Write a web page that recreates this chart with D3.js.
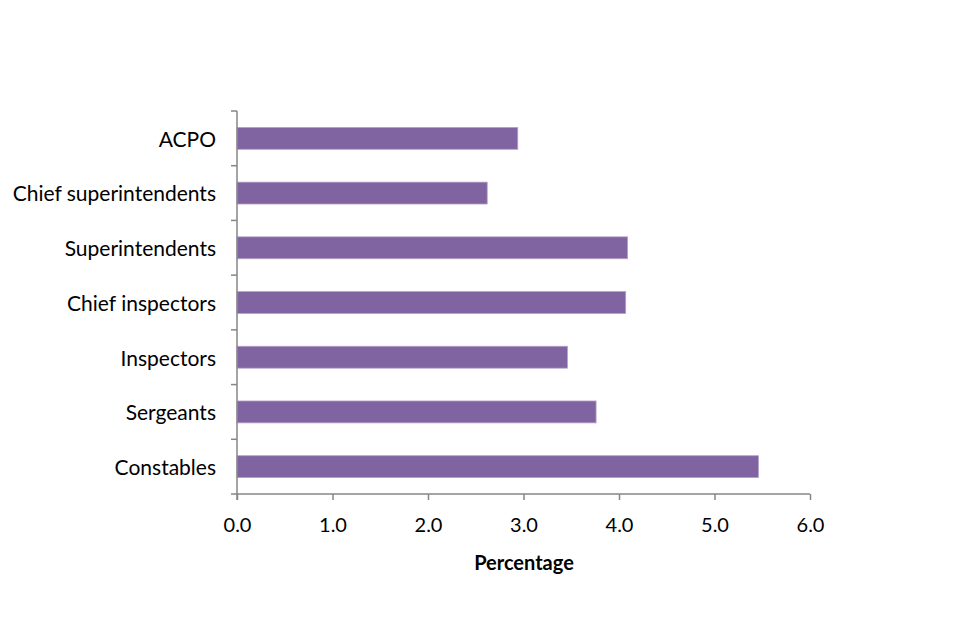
<!DOCTYPE html>
<html>
<head>
<meta charset="utf-8">
<script src="https://cdn.jsdelivr.net/npm/d3@7"></script>
<style>
  body { margin: 0; background: #fff; }
  svg { font-family: Lato, "Open Sans", sans-serif; }
</style>
</head>
<body>
<svg id="chart" width="960" height="640"></svg>
<script>
const ranks = ["ACPO", "Chief superintendents", "Superintendents", "Chief inspectors",
    "Inspectors", "Sergeants", "Constables"];
const percentages = [2.94, 2.62, 4.09, 4.07, 3.46, 3.76, 5.46];
const xTicks = [0, 1, 2, 3, 4, 5, 6];

const svg = d3.select("#chart"),
    plotLeft = 237, plotRight = 810, plotTop = 111, plotBottom = 494,
    axisColor = "#868686";

const x = d3.scaleLinear().domain([0, 6]).range([plotLeft, plotRight]);
const y = d3.scaleBand().domain(ranks).range([plotTop, plotBottom])
    .paddingInner(0.6).paddingOuter(0.3);

// bars
svg.append("g").selectAll("rect")
    .data(ranks)
    .join("rect")
    .attr("x", x(0))
    .attr("y", d => y(d))
    .attr("width", (d, i) => x(percentages[i]) - x(0))
    .attr("height", y.bandwidth())
    .attr("fill", "#8064a2")
    .attr("stroke", "#b3a2c7")
    .attr("stroke-width", 0.8);

// x axis
const xAxis = svg.append("g")
    .attr("transform", `translate(0,${plotBottom})`)
    .call(d3.axisBottom(x).tickValues(xTicks).tickSize(6).tickPadding(18)
        .tickFormat(d3.format(".1f")));
xAxis.select(".domain").attr("stroke", axisColor).attr("stroke-width", 1.5)
    .attr("d", `M${plotLeft},0H${plotRight}`);
xAxis.selectAll(".tick line").attr("stroke", axisColor).attr("stroke-width", 1.5);
xAxis.selectAll(".tick text").attr("font-size", 20).attr("fill", "#000")
    .attr("font-family", "Lato, 'Open Sans', sans-serif");

// y axis: labels only, ticks sit between categories
const yAxis = svg.append("g")
    .attr("transform", `translate(${plotLeft},0)`)
    .call(d3.axisLeft(y).tickSize(0).tickPadding(21));
yAxis.select(".domain").remove();
yAxis.selectAll(".tick text").attr("font-size", 21).attr("fill", "#000")
    .attr("dy", "0.4em")
    .attr("font-family", "Lato, 'Open Sans', sans-serif");

const edges = [plotTop].concat(ranks.map(d => y(d) + y.bandwidth() + y.step() * y.paddingInner() / 2));
svg.append("line")
    .attr("x1", plotLeft).attr("x2", plotLeft)
    .attr("y1", plotTop).attr("y2", plotBottom + 6)
    .attr("stroke", axisColor).attr("stroke-width", 1.5);
svg.append("g").selectAll("line")
    .data(edges)
    .join("line")
    .attr("x1", plotLeft - 6).attr("x2", plotLeft)
    .attr("y1", d => d).attr("y2", d => d)
    .attr("stroke", axisColor).attr("stroke-width", 1.5);

svg.append("text")
    .attr("x", 524)
    .attr("y", 570)
    .attr("text-anchor", "middle")
    .attr("font-size", 20)
    .attr("font-weight", "bold")
    .text("Percentage");
</script>
</body>
</html>
